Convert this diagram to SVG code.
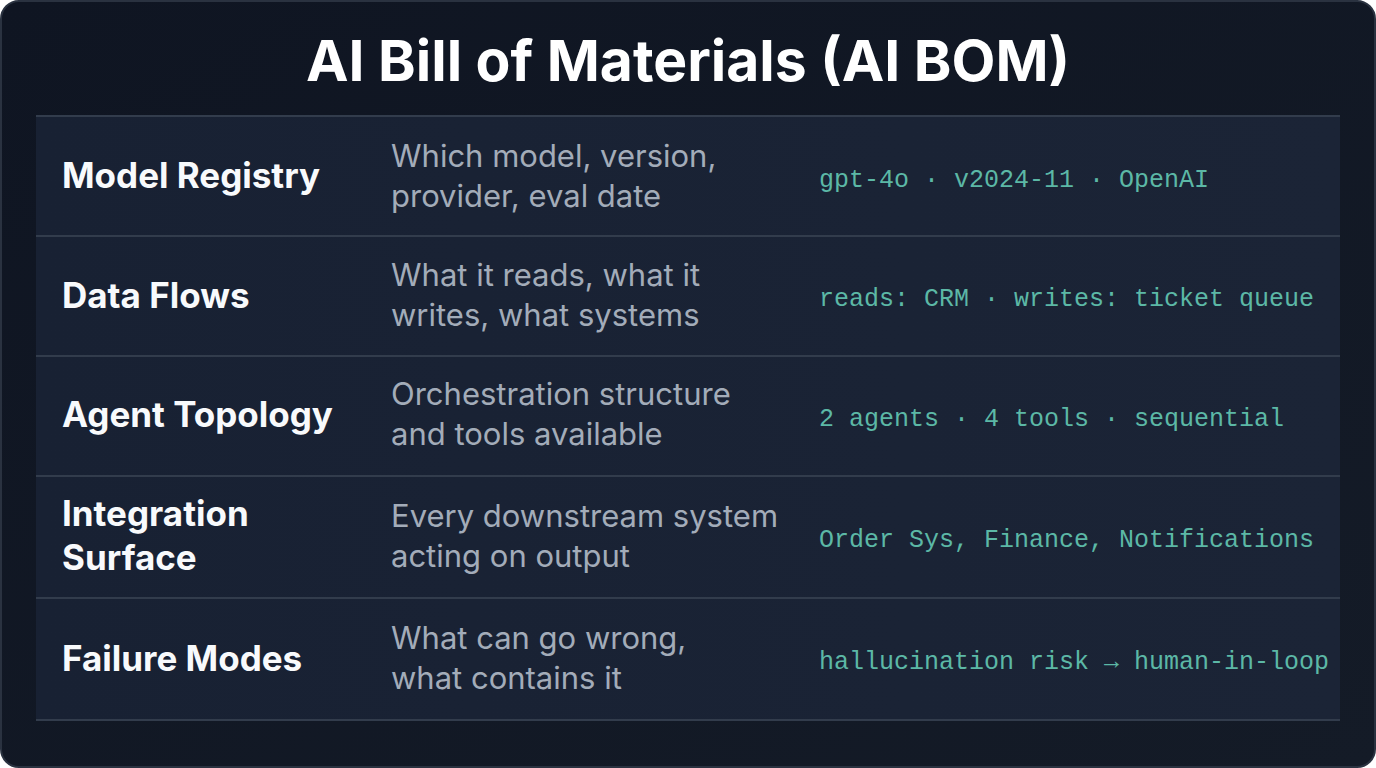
<svg xmlns="http://www.w3.org/2000/svg" width="1376" height="768" viewBox="0 0 1376 768">
<defs>
<linearGradient id="bg" x1="0" y1="0" x2="1" y2="1"><stop offset="0" stop-color="#0f1522"/><stop offset="1" stop-color="#141b27"/></linearGradient>
<linearGradient id="row" x1="0" y1="0" x2="1" y2="0"><stop offset="0" stop-color="#182133"/><stop offset="1" stop-color="#1b2436"/></linearGradient>
</defs>
<style>
.row{fill:url(#row)}
.ln{stroke:#323c4c;stroke-width:2}
.lab{font-family:Inter,"Liberation Sans",sans-serif;font-weight:700;font-size:35px;fill:#f8fafc}
.desc{font-family:Inter,"Liberation Sans",sans-serif;font-size:31px;fill:#a3acb9}
.mono{font-family:"Liberation Mono","DejaVu Sans Mono",monospace;font-size:25px;fill:#5cb8a6}
</style>
<rect x="1" y="1" width="1374" height="766" rx="18" fill="url(#bg)" stroke="#2a3240" stroke-width="2"/>
<text x="688" y="81" text-anchor="middle" font-family="Inter,'Liberation Sans',sans-serif" font-weight="700" font-size="57" fill="#ffffff">AI Bill of Materials (AI BOM)</text>
<g id="row1"><rect class="row" x="36" y="116" width="1304" height="120"/>
<text class="lab" x="62" y="188">Model Registry</text>
<text class="desc" x="391" y="167">Which model, version,</text><text class="desc" x="391" y="207">provider, eval date</text>
<text class="mono" x="819" y="187">gpt-4o · v2024-11 · OpenAI</text></g>
<g id="row2"><rect class="row" x="36" y="236" width="1304" height="120"/>
<text class="lab" x="62" y="308">Data Flows</text>
<text class="desc" x="391" y="286">What it reads, what it</text><text class="desc" x="391" y="326">writes, what systems</text>
<text class="mono" x="819" y="306">reads: CRM · writes: ticket queue</text></g>
<g id="row3"><rect class="row" x="36" y="356" width="1304" height="120"/>
<text class="lab" x="62" y="427">Agent Topology</text>
<text class="desc" x="391" y="405">Orchestration structure</text><text class="desc" x="391" y="445">and tools available</text>
<text class="mono" x="819" y="426">2 agents · 4 tools · sequential</text></g>
<g id="row4"><rect class="row" x="36" y="476" width="1304" height="122"/>
<text class="lab" x="62" y="526">Integration</text><text class="lab" x="62" y="570">Surface</text>
<text class="desc" x="391" y="527">Every downstream system</text><text class="desc" x="391" y="567">acting on output</text>
<text class="mono" x="819" y="547">Order Sys, Finance, Notifications</text></g>
<g id="row5"><rect class="row" x="36" y="598" width="1304" height="122"/>
<text class="lab" x="62" y="671">Failure Modes</text>
<text class="desc" x="391" y="649">What can go wrong,</text><text class="desc" x="391" y="689">what contains it</text>
<text class="mono" x="819" y="669">hallucination risk → human-in-loop</text></g>
<g id="connectors">
<line class="ln" x1="36" y1="116" x2="1340" y2="116"/>
<line class="ln" x1="36" y1="236" x2="1340" y2="236"/>
<line class="ln" x1="36" y1="356" x2="1340" y2="356"/>
<line class="ln" x1="36" y1="476" x2="1340" y2="476"/>
<line class="ln" x1="36" y1="598" x2="1340" y2="598"/>
<line class="ln" x1="36" y1="720" x2="1340" y2="720"/>
</g>
</svg>
